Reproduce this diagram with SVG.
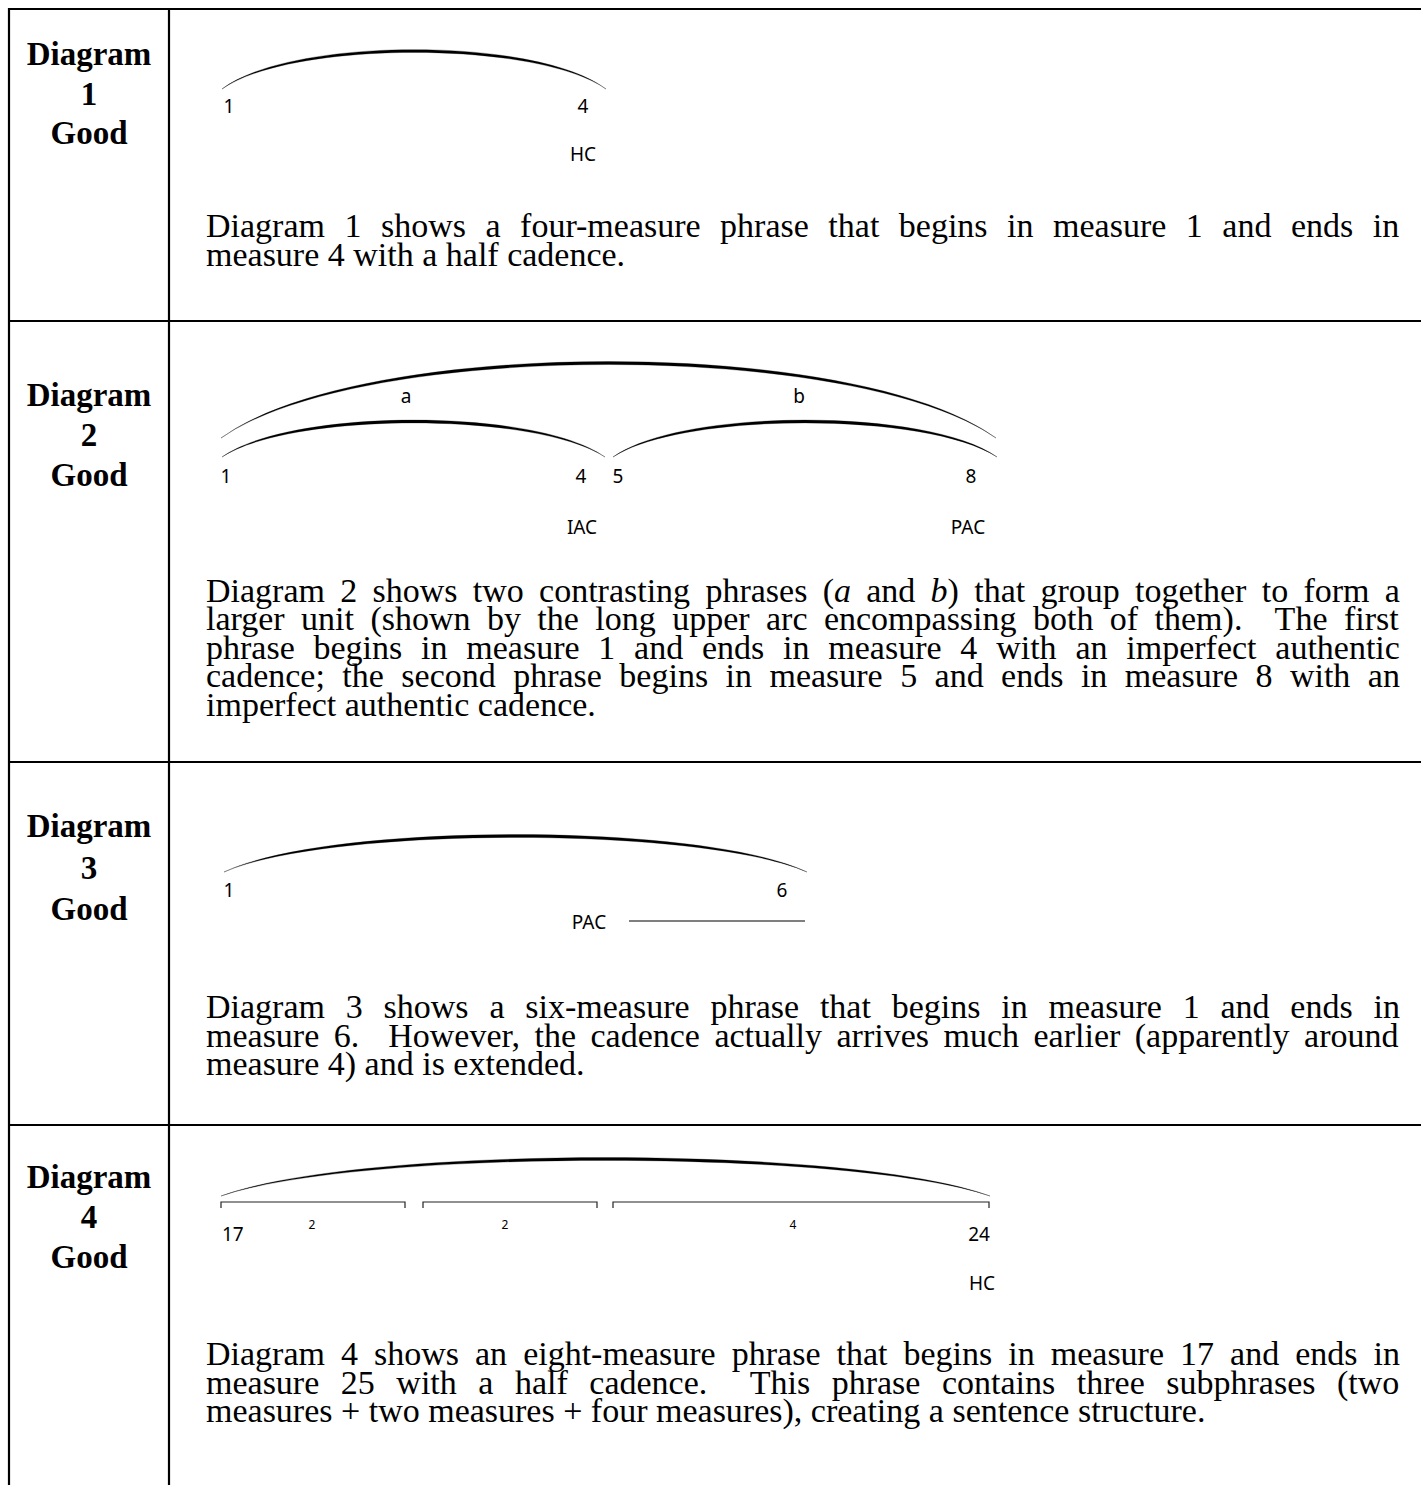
<svg xmlns="http://www.w3.org/2000/svg" width="1421" height="1485" viewBox="0 0 1421 1485">
<style>
.rule{stroke:#000;stroke-width:2.2;fill:none}
.lbl{font-family:"Liberation Serif","Times New Roman",serif;font-weight:bold;font-size:33px;text-anchor:middle;fill:#000}
.body{font-family:"Liberation Serif","Times New Roman",serif;font-size:34px;fill:#000}
.mus{font-family:"Noto Sans","Open Sans",sans-serif;font-size:19px;fill:#000}
.sm{font-family:"Noto Sans","Open Sans",sans-serif;font-size:12px;fill:#000;text-anchor:middle}
.mid{text-anchor:middle}
.end{text-anchor:end}
.slur{fill:#000;stroke:#000;stroke-width:0.3}
.brk{fill:none;stroke:#222;stroke-width:1.2}
.ext{fill:none;stroke:#000;stroke-width:1.2}
</style>
<g id="table">
<line class="rule" x1="8" y1="9" x2="1421" y2="9"/>
<line class="rule" x1="8" y1="321" x2="1421" y2="321"/>
<line class="rule" x1="8" y1="762" x2="1421" y2="762"/>
<line class="rule" x1="8" y1="1125" x2="1421" y2="1125"/>
<line class="rule" x1="9" y1="8" x2="9" y2="1485"/>
<line class="rule" x1="169" y1="8" x2="169" y2="1485"/>
</g>
<g id="connectors">
<path class="slur" d="M222,89 C291,36.5 537,36.5 606,89 C537,40.2 291,40.2 222,89Z"/>
<path class="slur" d="M221,438 C360.5,336 856.5,336 996,438 C856.5,340 360.5,340 221,438Z"/>
<path class="slur" d="M222,457 C291,407.8 536,407.8 605,457 C536,411.5 291,411.5 222,457Z"/>
<path class="slur" d="M613,457 C682,407.8 928,407.8 997,457 C928,411.5 682,411.5 613,457Z"/>
<path class="slur" d="M224,872 C329,822.1 702,822.1 807,872 C702,825.9 329,825.9 224,872Z"/>
<line class="ext" x1="629" y1="921" x2="805" y2="921"/>
<path class="slur" d="M221,1196 C359,1144.8 852,1144.8 990,1196 C852,1148.5 359,1148.5 221,1196Z"/>
<path class="brk" d="M221,1208 V1202 H405 V1208"/>
<path class="brk" d="M423,1208 V1202 H597 V1208"/>
<path class="brk" d="M613,1208 V1202 H989 V1208"/>
</g>
<g id="diagram1">
<text class="lbl" x="89" y="65">Diagram</text>
<text class="lbl" x="89" y="105">1</text>
<text class="lbl" x="89" y="144">Good</text>
<text class="mus mid" x="229" y="113">1</text>
<text class="mus mid" x="583" y="113">4</text>
<text class="mus mid" x="583" y="161">HC</text>
<text class="body" x="206" y="237" word-spacing="11">Diagram 1 shows a four-measure phrase that begins in measure 1 and ends in</text>
<text class="body" x="206" y="266">measure 4 with a half cadence.</text>
</g>
<g id="diagram2">
<text class="lbl" x="89" y="406">Diagram</text>
<text class="lbl" x="89" y="446">2</text>
<text class="lbl" x="89" y="486">Good</text>
<text class="mus mid" x="406" y="403">a</text>
<text class="mus mid" x="799" y="403">b</text>
<text class="mus mid" x="226" y="483">1</text>
<text class="mus mid" x="581" y="483">4</text>
<text class="mus mid" x="618" y="483">5</text>
<text class="mus mid" x="971" y="483">8</text>
<text class="mus mid" x="582" y="534">IAC</text>
<text class="mus mid" x="968" y="534">PAC</text>
<text class="body" x="206" y="601.5" word-spacing="6.77">Diagram 2 shows two contrasting phrases (<tspan font-style="italic">a</tspan> and <tspan font-style="italic">b</tspan>) that group together to form a</text>
<text class="body" x="206" y="630" word-spacing="7.92" xml:space="preserve">larger unit (shown by the long upper arc encompassing both of them).  The first</text>
<text class="body" x="206" y="658.5" word-spacing="10.28">phrase begins in measure 1 and ends in measure 4 with an imperfect authentic</text>
<text class="body" x="206" y="687" word-spacing="8.94">cadence; the second phrase begins in measure 5 and ends in measure 8 with an</text>
<text class="body" x="206" y="715.5">imperfect authentic cadence.</text>
</g>
<g id="diagram3">
<text class="lbl" x="89" y="837">Diagram</text>
<text class="lbl" x="89" y="879">3</text>
<text class="lbl" x="89" y="920">Good</text>
<text class="mus mid" x="229" y="897">1</text>
<text class="mus mid" x="782" y="897">6</text>
<text class="mus mid" x="589" y="929">PAC</text>
<text class="body" x="206" y="1018" word-spacing="12.31">Diagram 3 shows a six-measure phrase that begins in measure 1 and ends in</text>
<text class="body" x="206" y="1046.5" word-spacing="5.98" xml:space="preserve">measure 6.  However, the cadence actually arrives much earlier (apparently around</text>
<text class="body" x="206" y="1075">measure 4) and is extended.</text>
</g>
<g id="diagram4">
<text class="lbl" x="89" y="1188">Diagram</text>
<text class="lbl" x="89" y="1228">4</text>
<text class="lbl" x="89" y="1268">Good</text>
<text class="mus" x="222" y="1241" font-size="20">17</text>
<text class="sm" x="312" y="1229">2</text>
<text class="sm" x="505" y="1229">2</text>
<text class="sm" x="793" y="1229">4</text>
<text class="mus end" x="990" y="1241" font-size="20">24</text>
<text class="mus end" x="995" y="1290">HC</text>
<text class="body" x="206" y="1365" word-spacing="7.52">Diagram 4 shows an eight-measure phrase that begins in measure 17 and ends in</text>
<text class="body" x="206" y="1393.5" word-spacing="13.03" xml:space="preserve">measure 25 with a half cadence.  This phrase contains three subphrases (two</text>
<text class="body" x="206" y="1422">measures + two measures + four measures), creating a sentence structure.</text>
</g>
</svg>
